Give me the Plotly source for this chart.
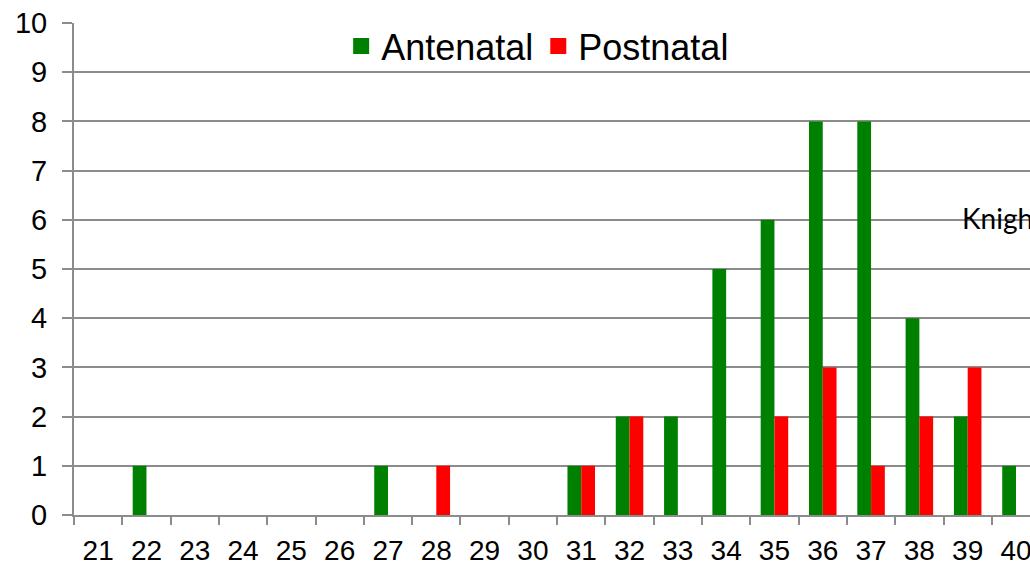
import plotly.graph_objects as go

weeks = [str(w) for w in range(21, 41)]
antenatal = [0, 1, 0, 0, 0, 0, 1, 0, 0, 0, 1, 2, 2, 5, 6, 8, 8, 4, 2, 1]
postnatal = [0, 0, 0, 0, 0, 0, 0, 1, 0, 0, 1, 2, 0, 0, 2, 3, 1, 2, 3, 0]
y_ticks = list(range(0, 11))

GREEN = "#008000"
RED = "#FF0000"
GRID = "#8C8C8C"
FONT = "Liberation Sans, Arial, sans-serif"

fig = go.Figure()
fig.add_trace(go.Bar(x=weeks, y=antenatal, name="Antenatal", marker=dict(color=GREEN, line=dict(width=0)),
                     showlegend=False))
fig.add_trace(go.Bar(x=weeks, y=postnatal, name="Postnatal", marker=dict(color=RED, line=dict(width=0)),
                     showlegend=False))
# legend entries with larger square symbols
fig.add_trace(go.Scatter(x=[None], y=[None], mode="markers", name="Antenatal",
                         marker=dict(symbol="square", size=18, color=GREEN)))
fig.add_trace(go.Scatter(x=[None], y=[None], mode="markers", name="Postnatal",
                         marker=dict(symbol="square", size=18, color=RED)))

fig.update_layout(
    width=1030, height=566,
    margin=dict(l=74, r=0, t=23, b=51, autoexpand=False),
    paper_bgcolor="white", plot_bgcolor="white",
    barmode="group", bargap=0.43, bargroupgap=0,
    font=dict(family=FONT, color="black"),
    legend=dict(orientation="h", x=0.485, xanchor="center", y=0.953, yanchor="middle",
                font=dict(size=36, family=FONT), bgcolor="rgba(0,0,0,0)",
                itemwidth=30, tracegroupgap=0),
    xaxis=dict(type="category", range=[-0.5, 19.29], showgrid=False, automargin=False,
               showline=True, linecolor=GRID, linewidth=2,
               ticks="outside", ticklen=8, tickcolor=GRID, tickwidth=2, tickson="boundaries",
               tickfont=dict(size=28, family=FONT), ticklabelstandoff=9, zeroline=False),
    yaxis=dict(range=[0, 10.002], tickvals=y_ticks, showgrid=True, gridcolor=GRID, gridwidth=2,
               automargin=False,
               showline=True, linecolor=GRID, linewidth=2,
               ticks="outside", ticklen=10, tickcolor=GRID, tickwidth=2,
               tickfont=dict(size=29, family=FONT), ticklabelstandoff=9, zeroline=False),
    annotations=[dict(text="Knight", xref="paper", yref="paper", x=0.927, y=0.6037,
                      xanchor="left", yanchor="middle", showarrow=False,
                      font=dict(size=28, family="Lato, sans-serif", color="black"))],
)

fig.write_html("out.html", config={"displayModeBar": False},
               post_script="document.body.style.margin='0';")
